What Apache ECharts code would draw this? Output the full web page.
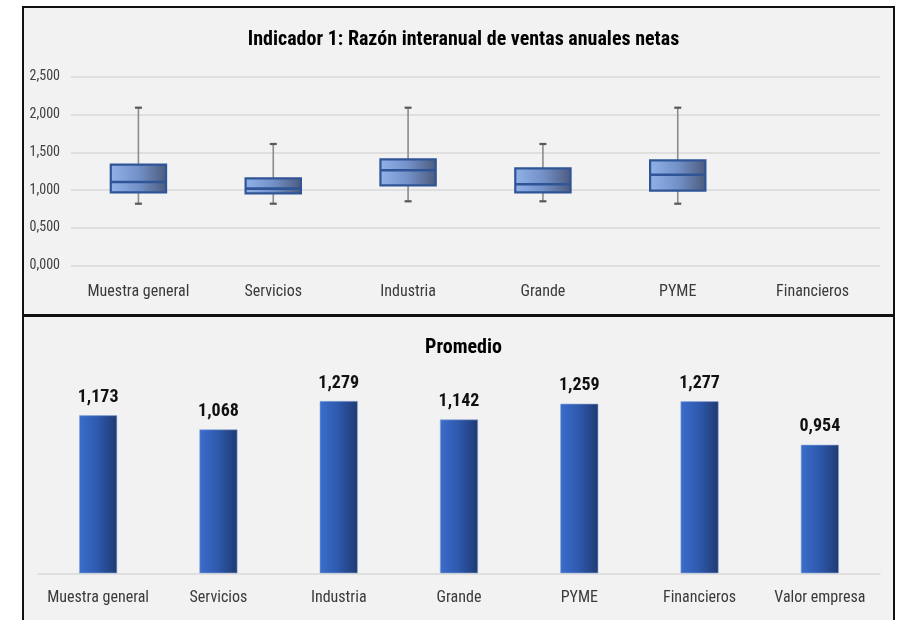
<!DOCTYPE html>
<html>
<head>
<meta charset="utf-8">
<script src="https://cdn.jsdelivr.net/npm/echarts@6/dist/echarts.min.js"></script>
<style>
html,body{margin:0;padding:0;background:#fff;}
#c{width:899px;height:620px;}
</style>
</head>
<body>
<div id="c"></div>
<script>
// ---- data ----
const boxCategories = ['Muestra general', 'Servicios', 'Industria', 'Grande', 'PYME', 'Financieros'];
// [low, q1, median, q3, high] per category (Financieros has no box)
const boxMuestra   = [0.82, 0.971, 1.107, 1.336, 2.09];
const boxServicios = [0.82, 0.958, 1.019, 1.156, 1.61];
const boxIndustria = [0.852, 1.063, 1.262, 1.407, 2.09];
const boxGrande    = [0.852, 0.971, 1.077, 1.288, 1.61];
const boxPyme      = [0.82, 0.992, 1.204, 1.394, 2.09];
const boxTicks = [0, 0.5, 1, 1.5, 2, 2.5];

const barCategories = ['Muestra general', 'Servicios', 'Industria', 'Grande', 'PYME', 'Financieros', 'Valor empresa'];
const barValues = [1.173, 1.068, 1.279, 1.142, 1.259, 1.277, 0.954];

const topTitle = 'Indicador 1: Razón interanual de ventas anuales netas';
const bottomTitle = 'Promedio';

// ---- chart ----
const FONT = '"Roboto Condensed", "DejaVu Sans Condensed", sans-serif';
const fmt = v => Number(v).toFixed(3).replace('.', ',');

const boxRows = [boxMuestra, boxServicios, boxIndustria, boxGrande, boxPyme]
  .map((b, i) => [i].concat(b));

function renderBox(params, api) {
  const x = api.value(0);
  const low = api.coord([x, api.value(1)]);
  const q1 = api.coord([x, api.value(2)]);
  const med = api.coord([x, api.value(3)]);
  const q3 = api.coord([x, api.value(4)]);
  const high = api.coord([x, api.value(5)]);
  const bw = api.size([1, 0])[0] * 0.41;
  const cx = low[0];
  const cap = 3.5;
  const wStyle = { stroke: '#8c8c8c', lineWidth: 1.6 };
  const cStyle = { stroke: '#595959', lineWidth: 2.2 };
  return {
    type: 'group',
    children: [
      { type: 'line', shape: { x1: cx, y1: high[1], x2: cx, y2: q3[1] }, style: wStyle },
      { type: 'line', shape: { x1: cx, y1: q1[1], x2: cx, y2: low[1] }, style: wStyle },
      { type: 'line', shape: { x1: cx - cap, y1: high[1], x2: cx + cap, y2: high[1] }, style: cStyle },
      { type: 'line', shape: { x1: cx - cap, y1: low[1], x2: cx + cap, y2: low[1] }, style: cStyle },
      {
        type: 'rect',
        shape: { x: cx - bw / 2, y: q3[1], width: bw, height: q1[1] - q3[1] },
        style: {
          fill: new echarts.graphic.LinearGradient(0, 0, 1, 0, [
            { offset: 0, color: '#92b2ea' },
            { offset: 0.5, color: '#7391c8' },
            { offset: 1, color: '#4c5a7c' }
          ]),
          stroke: '#2f5597', lineWidth: 2.2
        }
      },
      { type: 'line', shape: { x1: cx - bw / 2, y1: med[1], x2: cx + bw / 2, y2: med[1] }, style: { stroke: '#2f5597', lineWidth: 2.6 } }
    ]
  };
}

const chart = echarts.init(document.getElementById('c'), null, { renderer: 'canvas' });
chart.setOption({
  animation: false,
  backgroundColor: '#ffffff',
  textStyle: { fontFamily: FONT },
  graphic: [
    { type: 'rect', z: -10, shape: { x: 23, y: 7, width: 871, height: 308 }, style: { fill: '#f2f2f2', stroke: '#111', lineWidth: 2 } },
    { type: 'rect', z: -10, shape: { x: 23, y: 316, width: 871, height: 320 }, style: { fill: '#f2f2f2', stroke: '#111', lineWidth: 2 } }
  ],
  title: [
    { text: topTitle, left: 458.5, top: 25, textAlign: 'center', textStyle: { fontFamily: FONT, fontWeight: 'bold', fontSize: 20, color: '#000' } },
    { text: bottomTitle, left: 458.5, top: 333, textAlign: 'center', textStyle: { fontFamily: FONT, fontWeight: 'bold', fontSize: 20, color: '#000' } }
  ],
  grid: [
    { left: 71, right: 19, top: 76.7, bottom: 354.3 },
    { left: 38, right: 19, top: 357.8, bottom: 46.7 }
  ],
  xAxis: [
    {
      gridIndex: 0, type: 'category', data: boxCategories,
      axisLine: { show: false }, axisTick: { show: false },
      axisLabel: { interval: 0, margin: 18, fontSize: 16, color: '#3a3a3a', fontFamily: FONT }
    },
    {
      gridIndex: 1, type: 'category', data: barCategories,
      axisLine: { show: true, lineStyle: { color: '#d9d9d9', width: 1.5 } }, axisTick: { show: false },
      axisLabel: { interval: 0, margin: 17, fontSize: 16, color: '#3a3a3a', fontFamily: FONT }
    }
  ],
  yAxis: [
    {
      gridIndex: 0, type: 'value', min: boxTicks[0], max: boxTicks[boxTicks.length - 1], interval: 0.5,
      axisLine: { show: false }, axisTick: { show: false },
      splitLine: { lineStyle: { color: '#d9d9d9', width: 1.5 } },
      axisLabel: { margin: 11, fontSize: 14, color: '#404040', fontFamily: FONT, formatter: fmt }
    },
    {
      gridIndex: 1, type: 'value', min: 0, max: 1.6, show: false
    }
  ],
  series: [
    {
      type: 'custom', xAxisIndex: 0, yAxisIndex: 0,
      renderItem: renderBox,
      encode: { x: 0, y: [1, 2, 3, 4, 5] },
      data: boxRows
    },
    {
      type: 'bar', xAxisIndex: 1, yAxisIndex: 1,
      data: barValues, barWidth: '31.6%',
      itemStyle: {
        color: new echarts.graphic.LinearGradient(0, 0, 1, 0, [
          { offset: 0, color: '#3a6dcc' },
          { offset: 0.45, color: '#2f5bb0' },
          { offset: 1, color: '#1f3a72' }
        ]),
        borderColor: '#8fa9d8', borderWidth: 0.6
      },
      label: {
        show: true, position: 'top', distance: 9,
        formatter: p => fmt(p.value),
        fontFamily: FONT, fontWeight: 'bold', fontSize: 18, color: '#111'
      }
    }
  ]
});
</script>
</body>
</html>
